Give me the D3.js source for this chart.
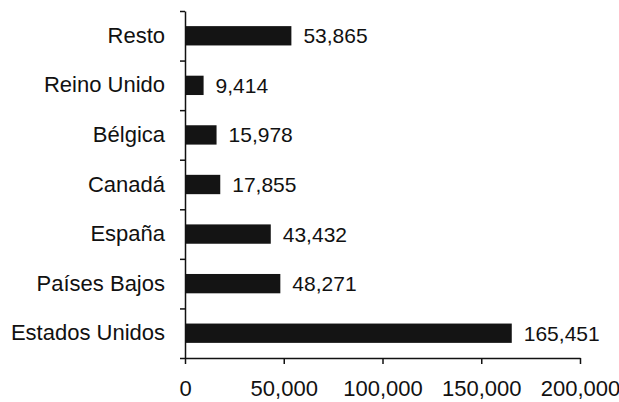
<!DOCTYPE html>
<html>
<head>
<meta charset="utf-8">
<script src="https://cdn.jsdelivr.net/npm/d3@7"></script>
<style>
  html, body { margin: 0; padding: 0; background: #fff; }
  svg { display: block; }
  text { font-family: "Liberation Sans", Arial, sans-serif; fill: #111; }
</style>
</head>
<body>
<div class="canvas"></div>
<script>
// data, top to bottom
const countries = ['Resto', 'Reino Unido', 'Bélgica', 'Canadá', 'España', 'Países Bajos', 'Estados Unidos'];
const amounts = [53865, 9414, 15978, 17855, 43432, 48271, 165451];
const xTicks = [0, 50000, 100000, 150000, 200000];

const width = 619, height = 402;
const margin = {top: 11, right: 39, bottom: 44, left: 185};
const graphWidth = width - margin.left - margin.right;
const graphHeight = height - margin.top - margin.bottom;

const data = countries.map((c, i) => ({country: c, amount: amounts[i]}));

const svg = d3.select('.canvas')
    .append('svg')
    .attr('width', width)
    .attr('height', height);

const graph = svg.append('g')
    .attr('transform', `translate(${margin.left}, ${margin.top})`);

// scales
const x = d3.scaleLinear().domain([0, 200000]).range([0, graphWidth]);
const y = d3.scaleBand()
    .domain(countries)
    .range([0, graphHeight])
    .paddingInner(0.61)
    .paddingOuter(0.305);
// band boundaries for the y tick marks
const yEdge = d3.scaleLinear().domain([0, countries.length]).range([0, graphHeight]);

// bars
graph.selectAll('rect.bar')
    .data(data)
    .enter().append('rect')
    .attr('class', 'bar')
    .attr('x', 0)
    .attr('y', d => y(d.country))
    .attr('width', d => x(d.amount))
    .attr('height', y.bandwidth())
    .attr('fill', '#141414');

// value labels
graph.selectAll('text.value')
    .data(data)
    .enter().append('text')
    .attr('class', 'value')
    .attr('x', d => x(d.amount) + 12)
    .attr('y', d => y(d.country) + y.bandwidth() / 2)
    .attr('dy', '0.36em')
    .style('font-size', '21px')
    .text(d => d3.format(',')(d.amount));

// y axis: line and ticks at band edges
const yAxisGroup = graph.append('g')
    .call(d3.axisLeft(yEdge).tickValues(d3.range(countries.length + 1)).tickFormat('').tickSize(5).tickSizeOuter(0));
yAxisGroup.select('.domain').attr('stroke', '#111').attr('stroke-width', 1.5);
yAxisGroup.selectAll('.tick line').attr('stroke', '#111').attr('stroke-width', 1.5);

// category labels
const yLabelGroup = graph.append('g')
    .call(d3.axisLeft(y).tickSize(0).tickPadding(20));
yLabelGroup.select('.domain').remove();
yLabelGroup.selectAll('text')
    .style('font-size', '22px')
    .style('font-family', '"Liberation Sans", Arial, sans-serif')
    .attr('fill', '#111');

// x axis
const xAxisGroup = graph.append('g')
    .attr('transform', `translate(0, ${graphHeight})`)
    .call(d3.axisBottom(x).tickValues(xTicks).tickFormat(d3.format(',')).tickSize(6).tickSizeOuter(0).tickPadding(16));
xAxisGroup.select('.domain').attr('stroke', '#111').attr('stroke-width', 1.5);
xAxisGroup.selectAll('.tick line').attr('stroke', '#111').attr('stroke-width', 1.5);
xAxisGroup.selectAll('text')
    .style('font-size', '22px')
    .style('font-family', '"Liberation Sans", Arial, sans-serif')
    .attr('fill', '#111');
</script>
</body>
</html>
